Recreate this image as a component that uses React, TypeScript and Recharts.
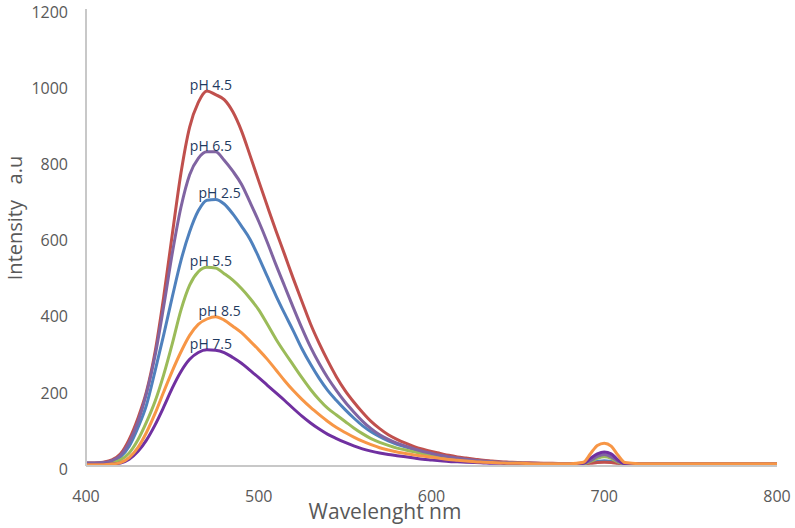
import { Label, Line, LineChart, ReferenceDot, XAxis, YAxis } from "recharts";

// wavelength (nm)
const wavelengths = [
  400, 405, 410, 415, 420, 425, 430, 435, 440, 445, 450, 455, 460, 465, 470, 475, 480, 485, 490, 495,
  500, 505, 510, 515, 520, 525, 530, 535, 540, 545, 550, 555, 560, 565, 570, 575, 580, 585, 590, 595,
  600, 605, 610, 615, 620, 625, 630, 635, 640, 645, 650, 660, 670, 680, 688, 692, 696, 700, 704, 708,
  712, 720, 740, 760, 780, 800,
];

const ph25 = [
  7, 7, 8, 12, 24, 52, 100, 160, 250, 345, 445, 540, 615, 670, 698, 700, 688, 662, 630, 595,
  548, 497, 447, 400, 355, 308, 267, 230, 198, 172, 148, 126, 106, 90, 77, 66, 57, 50, 43, 37,
  32, 27, 23, 20, 17, 14, 12, 10, 9, 8, 7, 6, 6, 5, 6, 9, 12, 14, 12, 8,
  5, 5, 5, 5, 5, 5,
];
const ph45 = [
  8, 8, 10, 16, 32, 70, 125, 195, 300, 445, 610, 770, 890, 955, 985, 975, 962, 930, 880, 815,
  748, 682, 617, 555, 492, 432, 373, 322, 276, 234, 198, 168, 141, 117, 98, 82, 70, 60, 51, 44,
  38, 33, 28, 24, 21, 18, 15, 13, 11, 10, 9, 8, 7, 6, 6, 7, 9, 10, 9, 7,
  6, 5, 5, 5, 5, 5,
];
const ph55 = [
  6, 6, 7, 9, 16, 34, 68, 115, 170, 240, 322, 410, 475, 510, 522, 520, 505, 488, 466, 440,
  410, 372, 333, 298, 265, 232, 201, 174, 151, 134, 117, 100, 85, 72, 62, 54, 47, 42, 37, 32,
  28, 24, 21, 18, 15, 13, 11, 10, 9, 8, 7, 6, 6, 5, 6, 12, 20, 24, 20, 10,
  5, 5, 5, 5, 5, 5,
];
const ph65 = [
  8, 8, 9, 14, 28, 62, 115, 190, 290, 420, 560, 680, 765, 808, 825, 825, 803, 774, 740, 692,
  642, 587, 528, 472, 416, 362, 312, 269, 231, 198, 168, 142, 118, 98, 82, 70, 60, 52, 45, 38,
  33, 28, 24, 21, 18, 15, 13, 11, 10, 9, 8, 7, 6, 6, 7, 14, 25, 30, 24, 12,
  6, 5, 5, 5, 5, 5,
];
const ph75 = [
  4, 4, 4, 5, 8, 18, 38, 68, 108, 155, 205, 248, 280, 298, 305, 304, 298, 285, 270, 251,
  232, 212, 192, 172, 151, 131, 113, 97, 83, 72, 62, 53, 45, 39, 34, 30, 27, 24, 21, 18,
  16, 14, 12, 11, 10, 9, 8, 7, 7, 6, 6, 5, 5, 5, 7, 20, 32, 37, 32, 16,
  6, 5, 5, 5, 5, 5,
];
const ph85 = [
  3, 3, 3, 5, 9, 22, 48, 88, 138, 195, 250, 300, 343, 372, 386, 392, 383, 367, 350, 328,
  305, 280, 252, 224, 198, 175, 154, 135, 117, 101, 88, 76, 65, 56, 48, 42, 37, 33, 29, 26,
  23, 20, 17, 15, 13, 11, 10, 9, 8, 7, 7, 6, 6, 6, 10, 32, 54, 60, 52, 28,
  9, 6, 6, 6, 6, 6,
];

const xTicks = [400, 500, 600, 700, 800];
const yTicks = [0, 200, 400, 600, 800, 1000, 1200];

const series = [
  { key: "ph25", name: "pH 2.5", values: ph25, color: "#4F81BD" },
  { key: "ph45", name: "pH 4.5", values: ph45, color: "#C0504D" },
  { key: "ph55", name: "pH 5.5", values: ph55, color: "#9BBB59" },
  { key: "ph65", name: "pH 6.5", values: ph65, color: "#8064A2" },
  { key: "ph75", name: "pH 7.5", values: ph75, color: "#7030A0" },
  { key: "ph85", name: "pH 8.5", values: ph85, color: "#F79646" },
];

const data = wavelengths.map((w, i) => {
  const row: Record<string, number> = { w };
  series.forEach((s) => (row[s.key] = s.values[i]));
  return row;
});

// peak of each curve, for the pH labels
const peaks = series.map((s) => {
  const max = Math.max(...s.values);
  return { name: s.name, x: wavelengths[s.values.indexOf(max)], y: max };
});

const FONT = "'Open Sans', 'Noto Sans', sans-serif";
const GREY = "#595959";

export default function App() {
  return (
    <div style={{ position: "absolute", left: 0, top: 0, width: 795, height: 528, background: "#fff", fontFamily: FONT }}>
      <LineChart width={795} height={528} data={data} margin={{ top: 9, right: 18, left: 30, bottom: 32 }}>
        <XAxis
          dataKey="w"
          type="number"
          domain={[400, 800]}
          ticks={xTicks}
          stroke="#C8C8C8"
          strokeWidth={2}
          tickLine={false}
          tickMargin={19}
          height={30}
          tick={{ fontSize: 16, fill: GREY, fontFamily: FONT }}
        />
        <YAxis
          domain={[0, 1200]}
          ticks={yTicks}
          stroke="#C8C8C8"
          strokeWidth={2}
          tickLine={false}
          tickMargin={12}
          width={56}
          tick={{ fontSize: 16, fill: GREY, fontFamily: FONT, dy: 3 }}
        />
        {series.map((s) => (
          <Line
            key={s.key}
            type="monotone"
            dataKey={s.key}
            stroke={s.color}
            strokeWidth={3}
            dot={false}
            isAnimationActive={false}
          />
        ))}
        {peaks.map((p) => (
          <ReferenceDot key={p.name} x={p.x} y={p.y} r={0} stroke="none" fill="none">
            <Label value={p.name} position="top" offset={1} dx={4} fill="#1F3A5F" fontSize={14} fontFamily={FONT} />
          </ReferenceDot>
        ))}
      </LineChart>

      <div
        style={{
          position: "absolute",
          left: 14,
          top: 218,
          transform: "translate(-50%, -50%) rotate(-90deg)",
          whiteSpace: "pre",
          fontSize: 20,
          color: GREY,
        }}
      >
        {"Intensity   a.u"}
      </div>
      <div
        style={{
          position: "absolute",
          left: 385,
          top: 511,
          transform: "translate(-50%, -50%)",
          whiteSpace: "pre",
          fontSize: 21,
          color: GREY,
        }}
      >
        Wavelenght nm
      </div>
    </div>
  );
}
